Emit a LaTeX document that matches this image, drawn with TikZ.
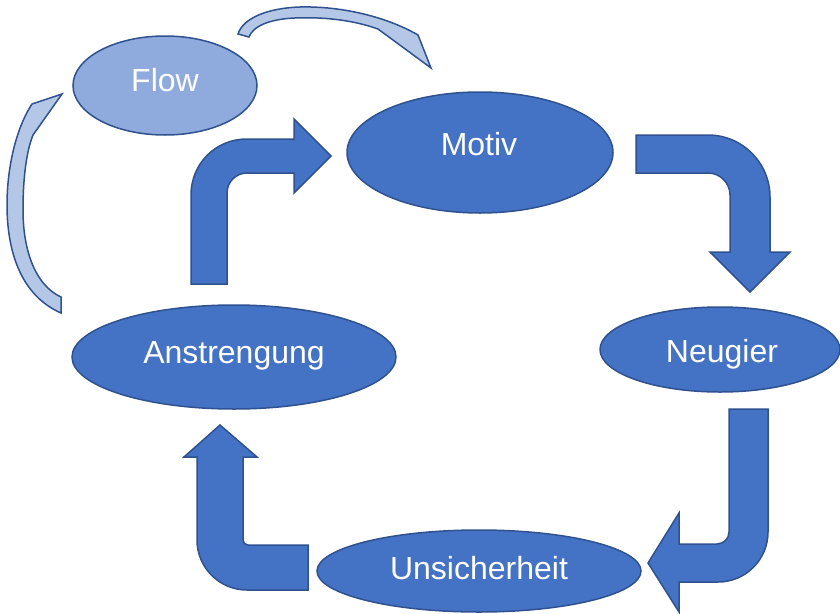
\documentclass[tikz,border=0pt]{standalone}
\usepackage{fontspec}
\setmainfont{Liberation Sans}
\usetikzlibrary{shapes.geometric}
\definecolor{accfill}{HTML}{4472C4}
\definecolor{accline}{HTML}{2F528F}
\definecolor{flowfill}{HTML}{8FAADC}
\definecolor{curvefill}{HTML}{B4C7E7}
\tikzset{
  ell/.style={ellipse, draw=accline, fill=accfill, line width=1.5pt, inner sep=0pt},
  lbl/.style={anchor=base, inner sep=0pt, text=white, font=\fontsize{32}{36}\selectfont},
  blockarrow/.style={draw=accline, fill=accfill, line width=1.5pt, line join=miter},
  curvearrow/.style={draw=accline, fill=curvefill, line width=1.5pt, line join=miter}
}
\begin{document}
\begin{tikzpicture}[x=1pt,y=-1pt]
\useasboundingbox (0,0) rectangle (840,613);
% ellipses
\node[ell, fill=flowfill, minimum width=184pt, minimum height=99pt] (flow) at (165,85.5) {};
\node[ell, minimum width=266pt, minimum height=121pt] (motiv) at (480,152.5) {};
\node[ell, minimum width=240pt, minimum height=85pt] (neugier) at (720,349.5) {};
\node[ell, minimum width=324pt, minimum height=104pt] (anstr) at (234,357) {};
\node[ell, minimum width=324pt, minimum height=82pt] (unsich) at (479,571) {};
% labels
\node[lbl] (flowtxt) at (165,91) {Flow};
\node[lbl] (motivtxt) at (479,155) {Motiv};
\node[lbl] (neugiertxt) at (722,362) {Neugier};
\node[lbl] (anstrtxt) at (234,363) {Anstrengung};
\node[lbl] (unsichtxt) at (479,579) {Unsicherheit};
% bent arrow: Anstrengung -> Motiv
\draw[blockarrow] (191,284) -- (191,195) .. controls (191,164.1) and (215.1,139) .. (247,139)
  -- (294,139) -- (294,119) -- (331,156) -- (294,193) -- (294,173) -- (247,173)
  .. controls (236,173) and (227,182) .. (227,193) -- (227,284) -- cycle;
% bent arrow: Motiv -> Neugier
\draw[blockarrow] (636,135) -- (708,135) .. controls (742.2,135) and (770,162.8) .. (770,197)
  -- (770,252) -- (790,252) -- (750,292) -- (710,252) -- (730,252) -- (730,195)
  .. controls (730,182.9) and (720.1,173) .. (708,173) -- (636,173) -- cycle;
% bent arrow: Neugier -> Unsicherheit
\draw[blockarrow] (729,409) -- (768,409) -- (768,532) .. controls (768,559.6) and (745.6,582) .. (718,582)
  -- (679,582) -- (679,612) -- (648,563) -- (679,513) -- (679,544) -- (717,544)
  .. controls (723.6,544) and (729,538.6) .. (729,532) -- cycle;
% bent arrow: Unsicherheit -> Anstrengung
\draw[blockarrow] (308,545) -- (248,545) .. controls (245.2,545) and (243,542.8) .. (243,540)
  -- (243,457) -- (257,457) -- (220,425) -- (184,457) -- (197,457) -- (197,540)
  .. controls (197,567.6) and (219.4,590) .. (247,590) -- (308,590) -- cycle;
% top curved arrow (Flow -> Motiv)
\draw[curvearrow] (238,34) .. controls (243,18) and (268,8) .. (300,7)
  .. controls (340,6) and (385,16) .. (418,35) -- (431,68) -- (378,29)
  .. controls (350,19) and (320,17) .. (295,18) .. controls (270,19) and (253,26) .. (249,37) -- cycle;
% left curved arrow (Anstrengung -> Flow)
\draw[curvearrow] (62,94) -- (32,104) .. controls (15,130) and (7,170) .. (7,205)
  .. controls (7,250) and (20,295) .. (61,313) -- (61,297)
  .. controls (35,285) and (23,250) .. (23,210) .. controls (23,175) and (27,150) .. (33,135) -- cycle;
\end{tikzpicture}
\end{document}
